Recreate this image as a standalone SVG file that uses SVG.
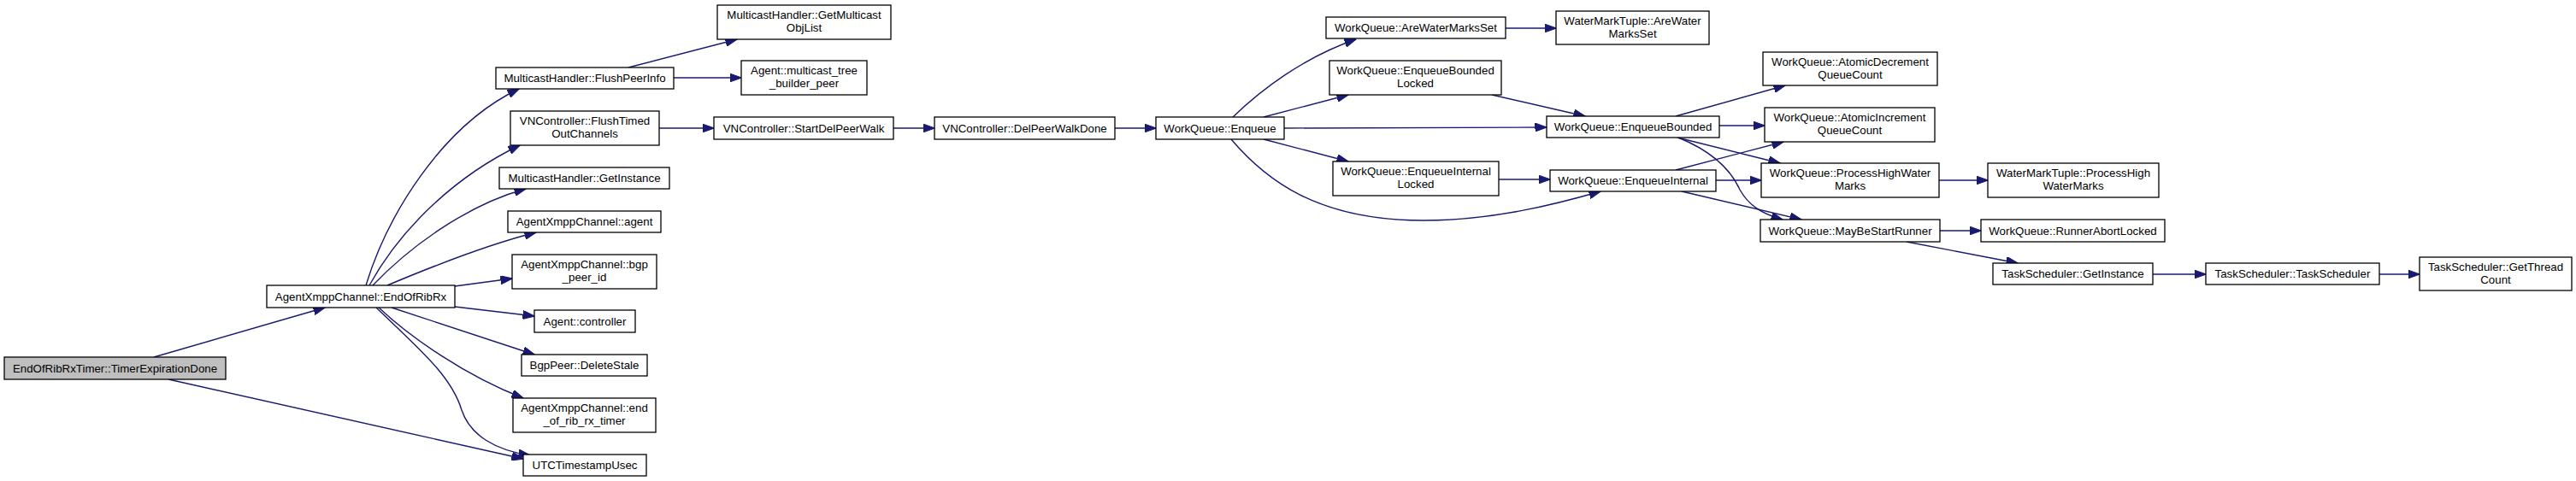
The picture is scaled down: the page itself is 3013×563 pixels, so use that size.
<svg xmlns="http://www.w3.org/2000/svg" width="3013" height="563" viewBox="0 0 3013 563">
<style>
.n rect{fill:#fff;stroke:#000;stroke-width:1.3}
.root rect{fill:#bfbfbf}
.n text{font-family:"Liberation Sans",Arial,sans-serif;font-size:13.3px;fill:#000;text-anchor:middle}
.e path{fill:none;stroke:#191970;stroke-width:1.4;marker-end:url(#ah)}
</style>
<defs>
<marker id="ah" viewBox="0 0 14 10" refX="13.5" refY="5" markerWidth="14" markerHeight="10" markerUnits="userSpaceOnUse" orient="auto">
<path d="M0,0 L14,5 L0,10 z" fill="#191970" stroke="#191970" stroke-width="1"/>
</marker>
</defs>
<rect width="3013" height="563" fill="#fff"/>
<g id="edges" class="e">
<path d="M180,418 L380,360"/>
<path d="M197,444 L612,537"/>
<path d="M428,334 C452,255 515,148 607,104"/>
<path d="M432,334 C470,265 535,205 608,170"/>
<path d="M436,334 C478,290 545,240 615,221"/>
<path d="M453,334 C510,310 575,285 627,272"/>
<path d="M532,335 L599,326"/>
<path d="M532,359 L625,370"/>
<path d="M458,360 L625,415"/>
<path d="M443,360 C480,395 545,440 612,466"/>
<path d="M440,360 C490,408 528,440 540,480 C550,510 580,527 620,533"/>
<path d="M735,79 L862,46"/>
<path d="M788,91 L867,91"/>
<path d="M771,150 L835,150"/>
<path d="M1045,150 L1093,150"/>
<path d="M1304,150 L1352,150"/>
<path d="M1442,137 C1475,105 1525,67 1586,46"/>
<path d="M1478,137 L1577,111"/>
<path d="M1502,150 L1809,149"/>
<path d="M1478,163 L1577,189"/>
<path d="M1440,163 C1480,210 1540,258 1665,258 C1740,258 1810,242 1872,224"/>
<path d="M1745,111 L1854,136"/>
<path d="M1753,210 L1813,210"/>
<path d="M1761,33 L1820,33"/>
<path d="M1960,136 L2088,100"/>
<path d="M2011,147 L2064,147"/>
<path d="M1962,161 L2082,191"/>
<path d="M1963,161 C2005,178 2025,200 2035,222 C2045,240 2060,250 2085,257"/>
<path d="M1960,199 L2086,166"/>
<path d="M2007,211 L2060,211"/>
<path d="M1967,224 L2107,257"/>
<path d="M2268,211 L2325,211"/>
<path d="M2269,270 L2317,270"/>
<path d="M2230,283 L2360,308"/>
<path d="M2518,321 L2580,321"/>
<path d="M2783,321 L2830,321"/>
</g>
<g id="n0" class="n root"><rect x="5" y="418" width="259" height="26"/><text x="134.5" y="436">EndOfRibRxTimer::TimerExpirationDone</text></g>
<g id="n1" class="n"><rect x="312" y="334" width="220" height="26"/><text x="422" y="352">AgentXmppChannel::EndOfRibRx</text></g>
<g id="n2" class="n"><rect x="580" y="79" width="208" height="25"/><text x="684" y="96">MulticastHandler::FlushPeerInfo</text></g>
<g id="n3" class="n"><rect x="839" y="6" width="203" height="40"/><text x="940.5" y="22">MulticastHandler::GetMulticast</text><text x="940.5" y="37">ObjList</text></g>
<g id="n4" class="n"><rect x="867" y="71" width="147" height="40"/><text x="940.5" y="87">Agent::multicast_tree</text><text x="940.5" y="102">_builder_peer</text></g>
<g id="n5" class="n"><rect x="597" y="130" width="174" height="40"/><text x="684" y="146">VNController::FlushTimed</text><text x="684" y="161">OutChannels</text></g>
<g id="n6" class="n"><rect x="835" y="137" width="210" height="26"/><text x="940" y="155">VNController::StartDelPeerWalk</text></g>
<g id="n7" class="n"><rect x="1093" y="137" width="211" height="26"/><text x="1198.5" y="155">VNController::DelPeerWalkDone</text></g>
<g id="n8" class="n"><rect x="1352" y="137" width="150" height="26"/><text x="1427" y="155">WorkQueue::Enqueue</text></g>
<g id="n9" class="n"><rect x="584" y="196" width="199" height="25"/><text x="683.5" y="213">MulticastHandler::GetInstance</text></g>
<g id="n10" class="n"><rect x="594" y="247" width="179" height="25"/><text x="683.5" y="264">AgentXmppChannel::agent</text></g>
<g id="n11" class="n"><rect x="599" y="298" width="169" height="40"/><text x="683.5" y="314">AgentXmppChannel::bgp</text><text x="683.5" y="329">_peer_id</text></g>
<g id="n12" class="n"><rect x="625" y="363" width="118" height="26"/><text x="684" y="381">Agent::controller</text></g>
<g id="n13" class="n"><rect x="610" y="415" width="147" height="25"/><text x="683.5" y="432">BgpPeer::DeleteStale</text></g>
<g id="n14" class="n"><rect x="600" y="466" width="167" height="40"/><text x="683.5" y="482">AgentXmppChannel::end</text><text x="683.5" y="497">_of_rib_rx_timer</text></g>
<g id="n15" class="n"><rect x="612" y="532" width="144" height="25"/><text x="684" y="549">UTCTimestampUsec</text></g>
<g id="n16" class="n"><rect x="1551" y="20" width="210" height="25"/><text x="1656" y="37">WorkQueue::AreWaterMarksSet</text></g>
<g id="n17" class="n"><rect x="1820" y="13" width="179" height="39"/><text x="1909.5" y="29">WaterMarkTuple::AreWater</text><text x="1909.5" y="44">MarksSet</text></g>
<g id="n18" class="n"><rect x="1555" y="71" width="201" height="40"/><text x="1655.5" y="87">WorkQueue::EnqueueBounded</text><text x="1655.5" y="102">Locked</text></g>
<g id="n19" class="n"><rect x="1809" y="136" width="202" height="25"/><text x="1910" y="153">WorkQueue::EnqueueBounded</text></g>
<g id="n20" class="n"><rect x="1559" y="189" width="194" height="40"/><text x="1656" y="205">WorkQueue::EnqueueInternal</text><text x="1656" y="220">Locked</text></g>
<g id="n21" class="n"><rect x="1813" y="199" width="194" height="25"/><text x="1910" y="216">WorkQueue::EnqueueInternal</text></g>
<g id="n22" class="n"><rect x="2062" y="61" width="204" height="39"/><text x="2164" y="77">WorkQueue::AtomicDecrement</text><text x="2164" y="92">QueueCount</text></g>
<g id="n23" class="n"><rect x="2064" y="126" width="199" height="40"/><text x="2163.5" y="142">WorkQueue::AtomicIncrement</text><text x="2163.5" y="157">QueueCount</text></g>
<g id="n24" class="n"><rect x="2060" y="191" width="208" height="40"/><text x="2164" y="207">WorkQueue::ProcessHighWater</text><text x="2164" y="222">Marks</text></g>
<g id="n25" class="n"><rect x="2325" y="191" width="200" height="40"/><text x="2425" y="207">WaterMarkTuple::ProcessHigh</text><text x="2425" y="222">WaterMarks</text></g>
<g id="n26" class="n"><rect x="2059" y="257" width="210" height="26"/><text x="2164" y="275">WorkQueue::MayBeStartRunner</text></g>
<g id="n27" class="n"><rect x="2317" y="257" width="215" height="26"/><text x="2424.5" y="275">WorkQueue::RunnerAbortLocked</text></g>
<g id="n28" class="n"><rect x="2331" y="308" width="187" height="25"/><text x="2424.5" y="325">TaskScheduler::GetInstance</text></g>
<g id="n29" class="n"><rect x="2580" y="308" width="203" height="25"/><text x="2681.5" y="325">TaskScheduler::TaskScheduler</text></g>
<g id="n30" class="n"><rect x="2830" y="301" width="178" height="39"/><text x="2919" y="317">TaskScheduler::GetThread</text><text x="2919" y="332">Count</text></g>
</svg>
